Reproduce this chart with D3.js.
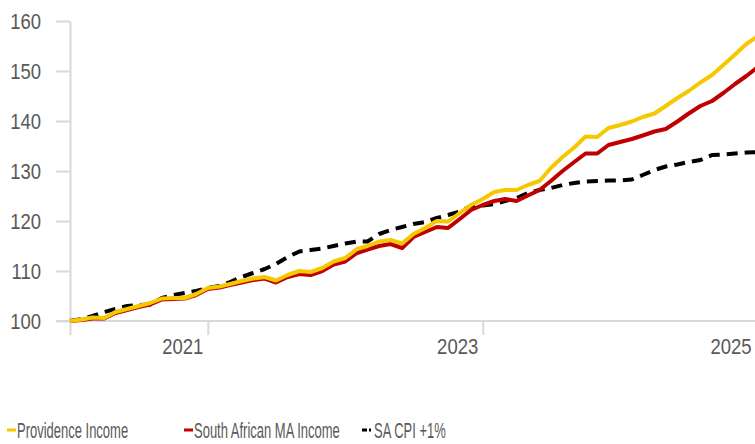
<!DOCTYPE html>
<html>
  <head>
    <meta charset="utf-8">
    <title>Income vs CPI</title>
    <script src="https://cdn.jsdelivr.net/npm/d3@7"></script>
    <style>
      body { margin: 0; background: #fff; }
      svg { display: block; }
      .axis text, .legend text {
        font-family: "Liberation Sans", Arial, sans-serif;
        font-size: 22px;
        fill: #595959;
      }
      .axis line, .axis path { stroke: #d9d9d9; stroke-width: 2px; }
    </style>
  </head>
  <body>
    <script>
    // monthly, Jan 2020 .. Jan 2025, rebased to 100
    const startYear = 2020;

    const providence = [
      100.0, 100.3, 100.7, 100.6, 101.8, 102.4, 103.0, 103.6, 104.5, 104.6, 104.6, 105.4,
      106.6, 106.9, 107.4, 108.0, 108.5, 108.8, 108.1, 109.2, 110.0, 109.8, 110.6, 111.9,
      112.6, 114.4, 115.0, 115.9, 116.2, 115.5, 117.4, 118.6, 120.0, 119.9, 121.6, 123.2,
      124.4, 125.8, 126.2, 126.2, 127.2, 128.0, 130.6, 132.8, 134.7, 136.9, 136.8, 138.6,
      139.2, 139.9, 140.8, 141.5, 143.0, 144.6, 146.0, 147.7, 149.2, 151.2, 153.3, 155.4,
      157.0
    ];

    const saMaIncome = [
      100.0, 100.2, 100.5, 100.5, 101.6, 102.2, 102.8, 103.3, 104.3, 104.4, 104.5, 105.2,
      106.4, 106.7, 107.2, 107.7, 108.2, 108.5, 107.7, 108.8, 109.4, 109.2, 110.0, 111.3,
      111.9, 113.6, 114.3, 115.0, 115.4, 114.6, 116.8, 117.8, 118.8, 118.6, 120.4, 122.2,
      123.2, 124.0, 124.4, 124.0, 125.1, 126.2, 128.0, 130.0, 131.8, 133.5, 133.5, 135.2,
      135.8, 136.4, 137.1, 137.9, 138.4, 139.9, 141.5, 143.0, 144.0, 145.6, 147.4, 149.0,
      150.8
    ];

    const cpiPlus1 = [
      100.0, 100.4, 101.0, 101.8, 102.4, 103.0, 103.2, 103.3, 104.6, 105.2, 105.6, 106.0,
      106.6, 107.0, 107.8, 108.8, 109.6, 110.4, 111.4, 112.8, 113.9, 114.2, 114.5, 115.0,
      115.5, 115.9, 115.9, 117.4, 118.2, 118.8, 119.4, 119.8, 120.6, 121.2, 121.9, 123.0,
      123.1, 123.4, 124.0, 124.6, 125.6, 126.2, 126.6, 127.2, 127.6, 127.9, 128.0, 128.1,
      128.1, 128.3, 129.2, 130.2, 130.9, 131.3, 131.8, 132.2, 133.2, 133.3, 133.5, 133.7,
      133.8
    ];

    const yTicks = [100, 110, 120, 130, 140, 150, 160];
    const xTickYears = [2020, 2021, 2023, 2025];
    const legendLabels = ["Providence Income", "South African MA Income", "SA CPI +1%"];

    const W = 755, H = 444;

    // no narrow font installed, so squeeze the glyphs a bit
    function condense(sel, k) {
      sel.each(function() {
        const w = this.getComputedTextLength();
        if (w > 0) {
          d3.select(this)
            .attr("textLength", w * k)
            .attr("lengthAdjust", "spacingAndGlyphs");
        }
      });
    }

    const svg = d3.select("body").append("svg")
      .attr("width", W)
      .attr("height", H);

    const x = d3.scaleTime()
      .domain([new Date(2020, 0, 1), new Date(2025, 0, 1)])
      .range([70, 758]);
    const y = d3.scaleLinear().domain([100, 160]).range([321, 21]);

    const monthDate = i => new Date(startYear, i, 1);

    // y axis
    const yAxis = svg.append("g")
      .attr("class", "axis")
      .attr("transform", "translate(70,0)")
      .call(d3.axisLeft(y).tickValues(yTicks).tickSize(14).tickSizeOuter(0).tickPadding(15));
    yAxis.selectAll("text").attr("dy", "0.36em").call(condense, 0.84);

    // x axis
    const xAxis = svg.append("g")
      .attr("class", "axis")
      .attr("transform", "translate(0,321)")
      .call(d3.axisBottom(x)
        .tickValues(xTickYears.map(yr => new Date(yr, 0, 1)))
        .tickSize(14).tickSizeOuter(0)
        .tickFormat(d => d.getFullYear() === 2020 ? "" : d3.timeFormat("%Y")(d)));
    xAxis.select(".domain").attr("d", "M56,0H758");
    xAxis.selectAll("text")
      .attr("text-anchor", "end")
      .attr("x", d => d.getFullYear() === 2025 ? -7 : -5)
      .attr("y", 17)
      .attr("dy", "0.71em")
      .call(condense, 0.84);

    const line = d3.line()
      .x((d, i) => x(monthDate(i)))
      .y(d => y(d));

    const series = [
      { data: cpiPlus1, color: "#000000", dash: "11,7" },
      { data: saMaIncome, color: "#c00000", dash: null },
      { data: providence, color: "#f5c800", dash: null }
    ];

    svg.selectAll(".series")
      .data(series).enter()
      .append("path")
      .attr("class", "series")
      .attr("fill", "none")
      .attr("stroke", d => d.color)
      .attr("stroke-width", 4)
      .attr("stroke-linejoin", "round")
      .attr("stroke-dasharray", d => d.dash)
      .attr("d", d => line(d.data));

    // legend
    const legendX = [7, 184, 362];
    const legendColors = ["#f5c800", "#c00000", "#000000"];
    const legend = svg.append("g").attr("class", "legend");
    legendLabels.forEach((label, i) => {
      const g = legend.append("g").attr("transform", "translate(" + legendX[i] + ",0)");
      g.append("line")
        .attr("x1", 0).attr("x2", 9)
        .attr("y1", 430).attr("y2", 430)
        .attr("stroke", legendColors[i])
        .attr("stroke-width", 3)
        .attr("stroke-dasharray", i === 2 ? "5,2" : null);
      g.append("text")
        .attr("x", i === 2 ? 12 : 10)
        .attr("y", 438)
        .text(label)
        .call(condense, 0.59);
    });
    </script>
  </body>
</html>
